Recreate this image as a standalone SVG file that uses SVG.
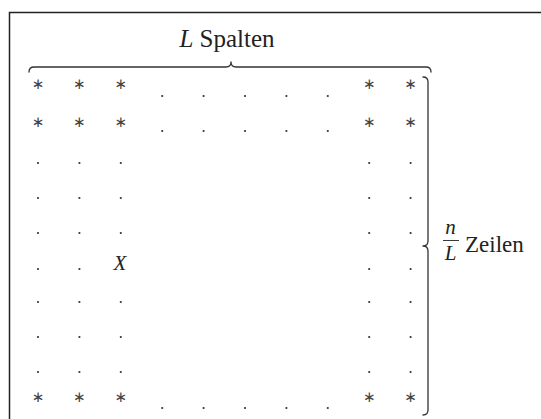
<svg xmlns="http://www.w3.org/2000/svg" width="541" height="419" viewBox="0 0 541 419">
<style>
.frame{fill:none;stroke:#222;stroke-width:1.5}
.brace{fill:none;stroke:#333;stroke-width:1.3;stroke-linecap:round;stroke-linejoin:round}
.txt{font-family:'Liberation Serif','DejaVu Serif',serif;fill:#222}
.it{font-style:italic}
.ast{font-family:'DejaVu Sans',sans-serif;font-size:15px;fill:#444;text-anchor:middle;dominant-baseline:central}
.d{fill:#333}
</style>
<defs>
<circle id="dot" r="1.1" class="d"/>
</defs>
<rect class="frame" x="9.5" y="12.5" width="540" height="420"/>
<g id="labels">
<text class="txt" x="227" y="47" font-size="25" text-anchor="middle"><tspan class="it">L</tspan> Spalten</text>
<text class="txt it" x="450.5" y="234" font-size="21" text-anchor="middle">n</text>
<line x1="443" y1="240.5" x2="459" y2="240.5" stroke="#222" stroke-width="0.9"/>
<text class="txt it" x="450.5" y="260" font-size="21" text-anchor="middle">L</text>
<text class="txt" x="465" y="252" font-size="23">Zeilen</text>
<text class="txt it" x="120" y="270" font-size="21" text-anchor="middle">X</text>
</g>
<g id="braces">
<path class="brace" d="M29,72 Q29,67 34,67 L226,67 Q231,67 231,62 Q231,67 236,67 L426,67 Q431,67 431,72"/>
<path class="brace" d="M423,77 Q428,77 428,82 L428,241 Q428,246 423,246 Q428,246 428,251 L428,410 Q428,415 423,415"/>
</g>
<g id="asterisks">
<text class="ast" x="38" y="84">∗</text><text class="ast" x="79.4" y="84">∗</text><text class="ast" x="120.8" y="84">∗</text><text class="ast" x="369.2" y="84">∗</text><text class="ast" x="410.6" y="84">∗</text>
<text class="ast" x="38" y="122">∗</text><text class="ast" x="79.4" y="122">∗</text><text class="ast" x="120.8" y="122">∗</text><text class="ast" x="369.2" y="122">∗</text><text class="ast" x="410.6" y="122">∗</text>
<text class="ast" x="38" y="397">∗</text><text class="ast" x="79.4" y="397">∗</text><text class="ast" x="120.8" y="397">∗</text><text class="ast" x="369.2" y="397">∗</text><text class="ast" x="410.6" y="397">∗</text>
</g>
<g id="rowdots">
<use href="#dot" x="162.2" y="96"/><use href="#dot" x="203.6" y="96"/><use href="#dot" x="245" y="96"/><use href="#dot" x="286.4" y="96"/><use href="#dot" x="327.8" y="96"/>
<use href="#dot" x="162.2" y="131"/><use href="#dot" x="203.6" y="131"/><use href="#dot" x="245" y="131"/><use href="#dot" x="286.4" y="131"/><use href="#dot" x="327.8" y="131"/>
<use href="#dot" x="162.2" y="408"/><use href="#dot" x="203.6" y="408"/><use href="#dot" x="245" y="408"/><use href="#dot" x="286.4" y="408"/><use href="#dot" x="327.8" y="408"/>
</g>
<g id="coldots">
<g id="c1"><use href="#dot" x="38" y="163"/><use href="#dot" x="38" y="198"/><use href="#dot" x="38" y="233"/><use href="#dot" x="38" y="269"/><use href="#dot" x="38" y="302"/><use href="#dot" x="38" y="337"/><use href="#dot" x="38" y="372"/></g>
<use href="#c1" x="41.4"/>
<g><use href="#dot" x="120.8" y="163"/><use href="#dot" x="120.8" y="198"/><use href="#dot" x="120.8" y="233"/><use href="#dot" x="120.8" y="302"/><use href="#dot" x="120.8" y="337"/><use href="#dot" x="120.8" y="372"/></g>
<use href="#c1" x="331.2"/>
<use href="#c1" x="372.6"/>
</g>
</svg>
